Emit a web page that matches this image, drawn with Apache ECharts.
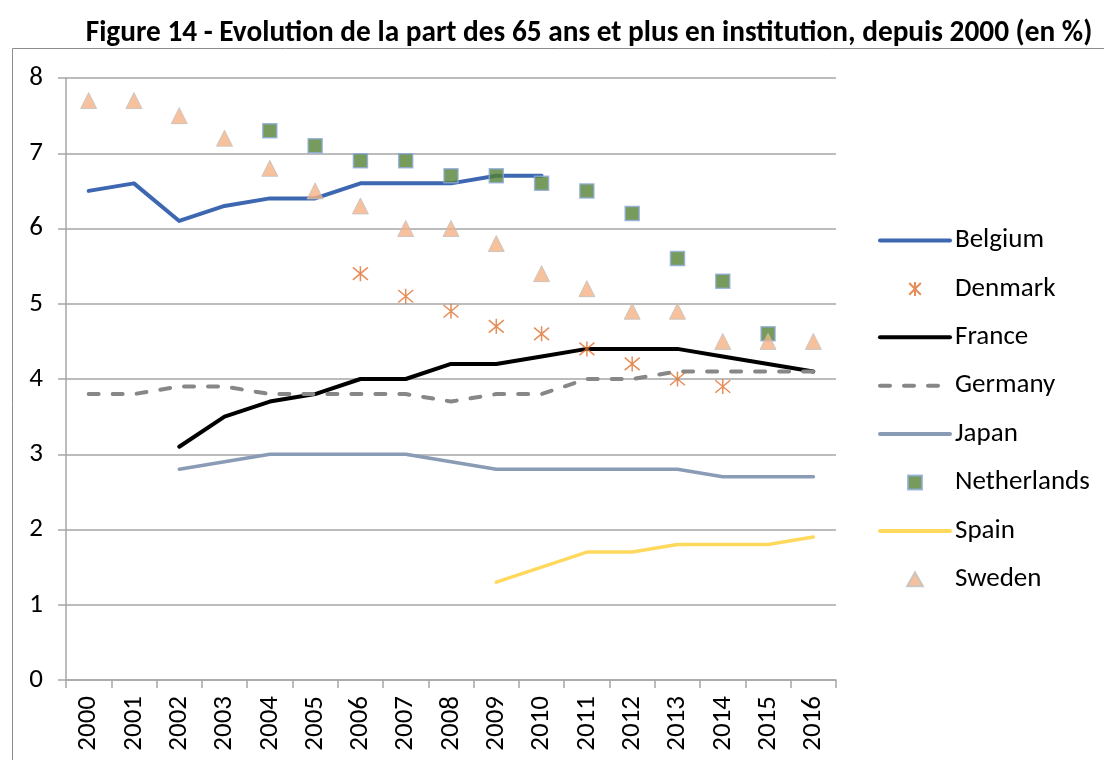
<!DOCTYPE html>
<html>
<head>
<meta charset="utf-8">
<script src="https://cdn.jsdelivr.net/npm/echarts@6/dist/echarts.min.js"></script>
<style>
  html, body { margin: 0; padding: 0; background: #fff; }
  #chart { width: 1104px; height: 760px; }
</style>
</head>
<body>
<div id="chart"></div>
<script>
// données
var years = ['2000', '2001', '2002', '2003', '2004', '2005', '2006', '2007', '2008',
             '2009', '2010', '2011', '2012', '2013', '2014', '2015', '2016'];
var belgium     = [6.5, 6.6, 6.1, 6.3, 6.4, 6.4, 6.6, 6.6, 6.6, 6.7, 6.7, null, null, null, null, null, null];
var denmark     = [null, null, null, null, null, null, 5.4, 5.1, 4.9, 4.7, 4.6, 4.4, 4.2, 4.0, 3.9, null, null];
var france      = [null, null, 3.1, 3.5, 3.7, 3.8, 4.0, 4.0, 4.2, 4.2, 4.3, 4.4, 4.4, 4.4, 4.3, 4.2, 4.1];
var germany     = [3.8, 3.8, 3.9, 3.9, 3.8, 3.8, 3.8, 3.8, 3.7, 3.8, 3.8, 4.0, 4.0, 4.1, 4.1, 4.1, 4.1];
var japan       = [null, null, 2.8, 2.9, 3.0, 3.0, 3.0, 3.0, 2.9, 2.8, 2.8, 2.8, 2.8, 2.8, 2.7, 2.7, 2.7];
var netherlands = [null, null, null, null, 7.3, 7.1, 6.9, 6.9, 6.7, 6.7, 6.6, 6.5, 6.2, 5.6, 5.3, 4.6, null];
var spain       = [null, null, null, null, null, null, null, null, null, 1.3, 1.5, 1.7, 1.7, 1.8, 1.8, 1.8, 1.9];
var sweden      = [7.7, 7.7, 7.5, 7.2, 6.8, 6.5, 6.3, 6.0, 6.0, 5.8, 5.4, 5.2, 4.9, 4.9, 4.5, 4.5, 4.5];

var font = 'Carlito, Lato, sans-serif';
// symboles en path pour garder les proportions dans la légende
var asterisk = 'path://M0,0L10,10M10,0L0,10M5,-1L5,11';
var carre = 'path://M0,0L10,0L10,10L0,10Z';
var triangle = 'path://M8,0L16,14L0,14Z';

var chart = echarts.init(document.getElementById('chart'));

// petite fonction pour les séries en ligne
function ligne(name, data, color, width, type) {
    return {
        name: name,
        type: 'line',
        data: data,
        showSymbol: false,
        symbol: 'none',
        connectNulls: false,
        lineStyle: { color: color, width: width, type: type || 'solid', cap: 'round', join: 'round' },
        itemStyle: { color: color, opacity: 0 },
        emphasis: { disabled: true },
        z: 2
    };
}

var option = {
    animation: false,
    title: {
        text: 'Figure 14 - Evolution de la part des 65 ans et plus en institution, depuis 2000 (en %)',
        left: 584,
        textAlign: 'center',
        top: 14,
        textStyle: { fontFamily: font, fontSize: 29.3, fontWeight: 'bold', color: '#000' }
    },
    graphic: [{
        type: 'rect',
        shape: { x: 12.5, y: 48.5, width: 1200, height: 800 },
        style: { fill: 'none', stroke: '#8c8c8c', lineWidth: 1 },
        silent: true
    }],
    grid: { left: 66, right: 268, top: 78, bottom: 80 },
    legend: {
        orient: 'vertical',
        left: 878,
        top: 227,
        padding: 0,
        itemWidth: 70,
        itemHeight: 14,
        itemGap: 21.4,
        lineStyle: { width: 4 },
        textStyle: { fontFamily: font, fontSize: 27, color: '#000' },
        data: ['Belgium', 'Denmark', 'France', 'Germany', 'Japan', 'Netherlands', 'Spain', 'Sweden']
    },
    xAxis: {
        type: 'category',
        data: years,
        boundaryGap: true,
        axisLine: { lineStyle: { color: '#a6a6a6', width: 1.5 } },
        axisTick: { show: true, length: 8, lineStyle: { color: '#a6a6a6', width: 1.5 } },
        axisLabel: { rotate: 90, margin: 16, fontFamily: font, fontSize: 27, color: '#000' },
        splitLine: { show: false }
    },
    yAxis: {
        type: 'value',
        min: 0,
        max: 8,
        interval: 1,
        axisLine: { show: true, lineStyle: { color: '#a6a6a6', width: 1.5 } },
        axisTick: { show: true, length: 8, lineStyle: { color: '#a6a6a6', width: 1.5 } },
        axisLabel: { margin: 23, fontFamily: font, fontSize: 27, color: '#000' },
        splitLine: { lineStyle: { color: '#a6a6a6', width: 1.5 } }
    },
    series: [
        ligne('Belgium', belgium, '#3e67b1', 4),
        {
            name: 'Denmark',
            type: 'scatter',
            data: denmark,
            symbol: asterisk,
            symbolSize: 15,
            itemStyle: { color: 'none', borderColor: '#e0702d', borderWidth: 1.5 },
            emphasis: { disabled: true },
            z: 3
        },
        ligne('France', france, '#000000', 4),
        ligne('Germany', germany, '#878787', 4, [10, 14]),
        ligne('Japan', japan, '#8a9bb5', 3.5),
        {
            name: 'Netherlands',
            type: 'scatter',
            data: netherlands,
            symbol: carre,
            symbolSize: 14,
            itemStyle: { color: '#548235', borderColor: '#8eaadb', borderWidth: 1.5 },
            emphasis: { disabled: true },
            z: 3
        },
        ligne('Spain', spain, '#ffd95e', 3.5),
        {
            name: 'Sweden',
            type: 'scatter',
            data: sweden,
            symbol: triangle,
            symbolSize: 16,
            itemStyle: { color: '#f4b183', borderColor: '#c0c0c0', borderWidth: 1 },
            emphasis: { disabled: true },
            z: 4
        }
    ]
};

chart.setOption(option);
</script>
</body>
</html>
